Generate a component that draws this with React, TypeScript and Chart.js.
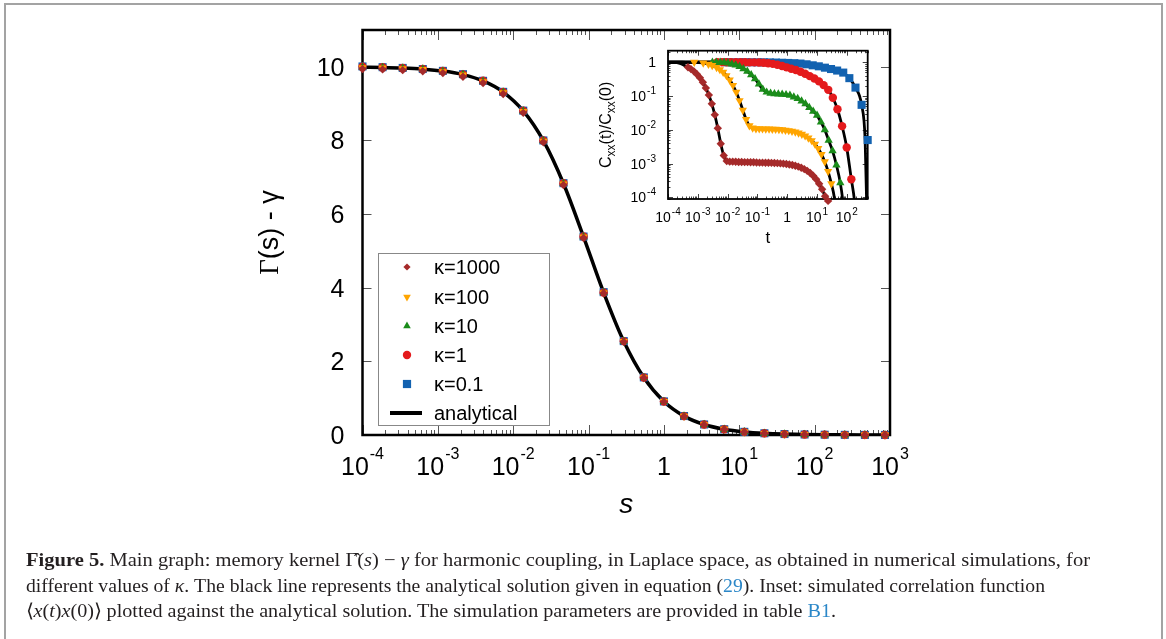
import React, { useEffect, useRef } from 'react';
import { Chart, registerables } from 'chart.js';

Chart.register(...registerables);

// ---------------- Main graph data ----------------
const sValues = [1e-4, 1.848e-4, 3.415e-4, 6.31e-4, 1.166e-3, 2.154e-3, 3.981e-3, 7.356e-3, 0.01359, 0.02512, 0.04642, 0.08577, 0.1585, 0.2929, 0.5412, 1, 1.848, 3.415, 6.31, 11.66, 21.54, 39.81, 73.56, 135.9, 251.2, 464.2, 857.7];
const gammaK1000 = [9.94, 9.93, 9.91, 9.88, 9.83, 9.73, 9.56, 9.26, 8.75, 7.95, 6.79, 5.35, 3.85, 2.53, 1.55, 0.9, 0.505, 0.28, 0.153, 0.083, 0.045, 0.024, 0.013, 0.007, 0.004, 0.002, 0.001];
const gammaK100 = [9.98, 9.97, 9.95, 9.93, 9.87, 9.78, 9.6, 9.3, 8.79, 7.98, 6.82, 5.38, 3.86, 2.54, 1.56, 0.91, 0.51, 0.284, 0.156, 0.085, 0.046, 0.025, 0.0135, 0.0073, 0.004, 0.0021, 0.0012];
const gammaK10 = [9.99, 9.98, 9.96, 9.94, 9.88, 9.79, 9.61, 9.31, 8.8, 7.99, 6.83, 5.38, 3.87, 2.545, 1.56, 0.909, 0.513, 0.285, 0.156, 0.085, 0.046, 0.025, 0.0136, 0.0074, 0.004, 0.0022, 0.0012];
const gammaK1 = [10.0, 9.99, 9.97, 9.94, 9.89, 9.79, 9.62, 9.32, 8.81, 8.0, 6.84, 5.39, 3.87, 2.55, 1.56, 0.91, 0.514, 0.285, 0.156, 0.085, 0.046, 0.025, 0.0136, 0.0074, 0.004, 0.0022, 0.0012];
const gammaK01 = [10.01, 9.99, 9.97, 9.94, 9.89, 9.8, 9.62, 9.32, 8.81, 8.0, 6.84, 5.39, 3.88, 2.55, 1.565, 0.912, 0.515, 0.286, 0.157, 0.086, 0.047, 0.026, 0.014, 0.0075, 0.004, 0.0022, 0.0012];
const analyticS = [1e-4, 1.848e-4, 3.415e-4, 6.31e-4, 1.166e-3, 2.154e-3, 3.981e-3, 7.356e-3, 0.01359, 0.02512, 0.04642, 0.08577, 0.1585, 0.2929, 0.5412, 1, 1.848, 3.415, 6.31, 11.66, 21.54, 39.81, 73.56, 135.9, 251.2, 464.2, 857.7, 1000];
const gammaAnalytical = [9.99, 9.982, 9.966, 9.937, 9.885, 9.789, 9.617, 9.315, 8.803, 7.993, 6.83, 5.383, 3.869, 2.545, 1.56, 0.909, 0.513, 0.285, 0.156, 0.085, 0.046, 0.025, 0.0136, 0.0074, 0.004, 0.0022, 0.0012, 0.001];

const mainXTicks = [1e-4, 1e-3, 1e-2, 1e-1, 1, 10, 100, 1000];
const mainXTickLabels = ['10^-4', '10^-3', '10^-2', '10^-1', '1', '10^1', '10^2', '10^3'];
const mainYTicks = [0, 2, 4, 6, 8, 10];
const mainYTickLabels = ['0', '2', '4', '6', '8', '10'];
const legendLabels = ['κ=1000', 'κ=100', 'κ=10', 'κ=1', 'κ=0.1', 'analytical'];

// ---------------- Inset data ----------------
const tK1000 = [4.68e-4, 5.89e-4, 7.41e-4, 9.33e-4, 1.175e-3, 1.479e-3, 1.862e-3, 2.344e-3, 2.951e-3, 3.715e-3, 4.677e-3, 5.888e-3, 7.413e-3, 9.333e-3, 0.01175, 0.01479, 0.01862, 0.02344, 0.02951, 0.03715, 0.04677, 0.05888, 0.07413, 0.09333, 0.1175, 0.1479, 0.1862, 0.2344, 0.2951, 0.3715, 0.4677, 0.5888, 0.7413, 0.9333, 1.175, 1.479, 1.862, 2.344, 2.951, 3.715, 4.677, 5.888, 7.413, 9.333, 11.75, 14.79, 18.62, 23.44];
const cK1000 = [0.71, 0.628, 0.539, 0.444, 0.348, 0.256, 0.174, 0.107, 0.0589, 0.0278, 0.0112, 0.0039, 1.74e-3, 1.19e-3, 1.148e-3, 1.148e-3, 1.135e-3, 1.122e-3, 1.122e-3, 1.109e-3, 1.109e-3, 1.096e-3, 1.096e-3, 1.084e-3, 1.072e-3, 1.072e-3, 1.06e-3, 1.059e-3, 1.057e-3, 1.047e-3, 1.035e-3, 1.019e-3, 1.0e-3, 9.77e-4, 9.48e-4, 9.12e-4, 8.71e-4, 8.18e-4, 7.6e-4, 6.9e-4, 6.12e-4, 5.27e-4, 4.37e-4, 3.44e-4, 2.55e-4, 1.74e-4, 1.08e-4, 7.9e-5];
const tK100 = [7.6e-4, 1.52e-3, 2.28e-3, 3.04e-3, 4.266e-3, 5.495e-3, 7.079e-3, 9.12e-3, 0.01175, 0.01514, 0.0195, 0.02512, 0.03236, 0.04169, 0.0537, 0.06918, 0.08913, 0.1148, 0.1479, 0.1905, 0.2455, 0.3162, 0.4074, 0.5248, 0.6761, 0.871, 1.122, 1.445, 1.862, 2.399, 3.09, 3.981, 5.129, 6.607, 8.511, 10.96, 14.13, 18.2, 23.44, 30.2];
const cK100 = [1.0, 0.956, 0.876, 0.803, 0.7, 0.609, 0.51, 0.405, 0.302, 0.208, 0.13, 0.0737, 0.0383, 0.0203, 0.0133, 0.0114, 0.01084, 0.0108, 0.01076, 0.01072, 0.01064, 0.01055, 0.01043, 0.01028, 0.01007, 0.00984, 0.00953, 0.00916, 0.00869, 0.00813, 0.00746, 0.00668, 0.00579, 0.00482, 0.0038, 0.00281, 0.00189, 0.00114, 5.94e-4, 2.56e-4];
const tK10 = [3.09e-3, 4.169e-3, 5.623e-3, 7.586e-3, 0.01023, 0.0138, 0.01862, 0.02512, 0.03388, 0.04571, 0.06166, 0.08318, 0.1122, 0.1514, 0.2042, 0.2754, 0.3715, 0.5012, 0.6761, 0.912, 1.23, 1.66, 2.239, 3.02, 4.074, 5.495, 7.413, 10.0, 13.49, 18.2, 24.55, 33.11, 44.67, 60.26];
const cK10 = [1.0, 1.0, 1.0, 0.988, 0.945, 0.89, 0.822, 0.741, 0.644, 0.538, 0.427, 0.323, 0.225, 0.158, 0.13, 0.12, 0.116, 0.1148, 0.1127, 0.1096, 0.1047, 0.0933, 0.0841, 0.0708, 0.0589, 0.0457, 0.0355, 0.0269, 0.017, 0.01, 0.0049, 0.0024, 9.1e-4, 2.7e-4];
const tK1 = [4.519e-3, 6.457e-3, 9.226e-3, 0.01318, 0.01884, 0.02692, 0.03846, 0.05495, 0.07852, 0.1122, 0.1603, 0.2291, 0.3273, 0.4677, 0.6683, 0.955, 1.365, 1.95, 2.786, 3.981, 5.689, 8.128, 11.61, 16.6, 23.71, 33.88, 48.42, 69.18, 98.86, 141.3];
const cK1 = [1.0, 1.0, 1.0, 1.0, 1.0, 0.999, 0.998, 0.996, 0.993, 0.982, 0.966, 0.938, 0.895, 0.841, 0.776, 0.708, 0.646, 0.589, 0.525, 0.457, 0.389, 0.331, 0.272, 0.211, 0.153, 0.0891, 0.0407, 0.0129, 3.02e-3, 3.47e-4];
const tK01 = [9.64e-3, 0.01545, 0.02477, 0.03972, 0.06368, 0.1021, 0.1637, 0.2624, 0.4207, 0.6745, 1.081, 1.734, 2.78, 4.457, 7.145, 11.46, 18.37, 29.44, 47.21, 75.68, 121.3, 194.5, 311.9, 500];
const cK01 = [1.0, 1.0, 1.0, 1.0, 1.0, 0.999, 0.996, 0.99, 0.98, 0.967, 0.955, 0.94, 0.916, 0.871, 0.813, 0.759, 0.692, 0.631, 0.569, 0.495, 0.339, 0.178, 0.055, 5.0e-3];

// analytical curves: start and end segments beyond the simulated points
const aHeadT1000 = [1e-4, 1.6e-4, 2.5e-4, 3.5e-4];
const aHeadC1000 = [1, 0.99, 0.92, 0.81];
const aTailT1000 = [30];
const aTailC1000 = [2.5e-5];
const aHeadT100 = [1e-4, 3e-4, 5.5e-4];
const aHeadC100 = [1, 1, 0.999];
const aTailT100 = [38, 48];
const aTailC100 = [1.0e-4, 1.5e-5];
const aHeadT10 = [1e-4, 1e-3, 2e-3];
const aHeadC10 = [1, 1, 1];
const aTailT10 = [72, 85];
const aTailC10 = [9e-5, 2e-5];
const aHeadT1 = [1e-4, 1e-3, 2.5e-3];
const aHeadC1 = [1, 1, 1];
const aTailT1 = [178, 210];
const aTailC1 = [8.7e-5, 1.5e-5];
const aHeadT01 = [1e-4, 1e-3, 5e-3];
const aHeadC01 = [1, 1, 1];
const aTailT01 = [410, 457, 480];
const aTailC01 = [5e-3, 1e-4, 5e-6];

const insetXTicks = [1e-4, 1e-3, 1e-2, 1e-1, 1, 10, 100];
const insetXTickLabels = ['10^-4', '10^-3', '10^-2', '10^-1', '1', '10^1', '10^2'];
const insetYTicks = [1, 0.1, 0.01, 1e-3, 1e-4];
const insetYTickLabels = ['1', '10^-1', '10^-2', '10^-3', '10^-4'];

// ---------------- Styles ----------------
const SANS = '"Liberation Sans", Arial, Helvetica, sans-serif';
const SERIF = '"Liberation Serif", "Times New Roman", serif';
const BROWN = '#a52a2a';
const ORANGE = '#ffa500';
const GREEN = '#1a8c1a';
const RED = '#e41a1c';
const BLUE = '#1262b0';

const markerDefs = [
  { color: BROWN, style: 'rectRot', r: 4.2, rot: 0 },
  { color: ORANGE, style: 'triangle', r: 4.8, rot: 180 },
  { color: GREEN, style: 'triangle', r: 4.8, rot: 0 },
  { color: RED, style: 'circle', r: 4.2, rot: 0 },
  { color: BLUE, style: 'rect', r: 5.7, rot: 0 },
];

const toXY = (xs: number[], ys: number[]) => xs.map((x, i) => ({ x, y: ys[i] }));

function splitSup(label: string): [string, string] {
  const i = label.indexOf('^');
  return i < 0 ? [label, ''] : [label.slice(0, i), label.slice(i + 1)];
}

function drawSupLabel(ctx: any, label: string, x: number, y: number, align: string, baseSize: number, supSize: number, rise: number) {
  const [b, s] = splitSup(label);
  ctx.font = `${baseSize}px ${SANS}`;
  const wb = ctx.measureText(b).width;
  ctx.font = `${supSize}px ${SANS}`;
  const gap = 1;
  const ws = s ? ctx.measureText(s).width + gap : 0;
  const total = wb + ws;
  const left = align === 'center' ? x - total / 2 : x - total;
  ctx.textAlign = 'left';
  ctx.textBaseline = 'alphabetic';
  ctx.fillStyle = '#000';
  ctx.font = `${baseSize}px ${SANS}`;
  ctx.fillText(b, left, y);
  if (s) {
    ctx.font = `${supSize}px ${SANS}`;
    ctx.fillText(s, left + wb + gap, y - rise);
  }
}

function drawMarker(ctx: any, style: string, x: number, y: number, r: number, color: string, rot: number) {
  ctx.save();
  ctx.fillStyle = color;
  ctx.beginPath();
  if (style === 'circle') {
    ctx.arc(x, y, r, 0, Math.PI * 2);
  } else if (style === 'rect') {
    const h = r * Math.SQRT1_2;
    ctx.rect(x - h, y - h, 2 * h, 2 * h);
  } else if (style === 'rectRot') {
    ctx.moveTo(x - r, y); ctx.lineTo(x, y - r); ctx.lineTo(x + r, y); ctx.lineTo(x, y + r); ctx.closePath();
  } else if (style === 'triangle') {
    let a = (rot * Math.PI) / 180;
    for (let i = 0; i < 3; i++) {
      const px = x + Math.sin(a) * r;
      const py = y - Math.cos(a) * r;
      if (i === 0) ctx.moveTo(px, py); else ctx.lineTo(px, py);
      a += (2 * Math.PI) / 3;
    }
    ctx.closePath();
  }
  ctx.fill();
  ctx.restore();
}

function logTicks(min: number, max: number) {
  const out: { v: number; major: boolean }[] = [];
  for (let e = Math.floor(Math.log10(min)) - 1; e <= Math.ceil(Math.log10(max)); e++) {
    for (let m = 1; m <= 9; m++) {
      const v = m * Math.pow(10, e);
      if (v >= min * 0.9999 && v <= max * 1.0001) out.push({ v, major: m === 1 });
    }
  }
  return out;
}

// ---------------- Main chart plugin ----------------
const mainAxesPlugin = {
  id: 'mainAxes',
  beforeDatasetsDraw(chart: any) {
    const { ctx, chartArea: a, scales } = chart;
    const xs = scales.x, ys = scales.y;
    ctx.save();
    ctx.strokeStyle = '#555';
    ctx.lineWidth = 1;
    ctx.beginPath();
    for (const t of logTicks(xs.min, xs.max)) {
      const px = Math.round(xs.getPixelForValue(t.v)) + 0.5;
      const len = t.major ? 10 : 5;
      ctx.moveTo(px, a.bottom); ctx.lineTo(px, a.bottom - len);
      ctx.moveTo(px, a.top); ctx.lineTo(px, a.top + len);
    }
    for (const v of mainYTicks) {
      const py = Math.round(ys.getPixelForValue(v)) + 0.5;
      ctx.moveTo(a.left, py); ctx.lineTo(a.left + 9, py);
      ctx.moveTo(a.right, py); ctx.lineTo(a.right - 9, py);
    }
    ctx.stroke();
    ctx.strokeStyle = '#000';
    ctx.lineWidth = 2.5;
    ctx.strokeRect(a.left, a.top, a.right - a.left, a.bottom - a.top);
    ctx.restore();
  },
  afterDraw(chart: any) {
    const { ctx, chartArea: a, scales } = chart;
    const xs = scales.x, ys = scales.y;
    ctx.save();
    mainXTicks.forEach((v, i) => {
      drawSupLabel(ctx, mainXTickLabels[i], xs.getPixelForValue(v), a.bottom + 40, 'center', 25, 16, 16.5);
    });
    mainYTicks.forEach((v, i) => {
      drawSupLabel(ctx, mainYTickLabels[i], a.left - 18, ys.getPixelForValue(v) + 9, 'right', 25, 16, 16);
    });
    // x title
    ctx.fillStyle = '#000';
    ctx.font = `italic 28px ${SANS}`;
    ctx.textAlign = 'center';
    ctx.textBaseline = 'alphabetic';
    ctx.fillText('s', (a.left + a.right) / 2, 513);
    // y title
    ctx.save();
    ctx.translate(278, (a.top + a.bottom) / 2);
    ctx.rotate(-Math.PI / 2);
    const p1 = 'Γ', p2 = '(s) - γ';
    ctx.font = `27px ${SERIF}`;
    const w1 = ctx.measureText(p1).width;
    ctx.font = `27px ${SANS}`;
    const w2 = ctx.measureText(p2).width;
    const start = -(w1 + w2) / 2;
    ctx.textAlign = 'left';
    ctx.font = `27px ${SERIF}`;
    ctx.fillText(p1, start, 0);
    ctx.font = `27px ${SANS}`;
    ctx.fillText(p2, start + w1, 0);
    ctx.restore();
    // legend
    const lx = 378.5, ly = 253.5, lw = 171, lh = 172;
    ctx.fillStyle = '#fff';
    ctx.fillRect(lx, ly, lw, lh);
    ctx.strokeStyle = '#888';
    ctx.lineWidth = 1;
    ctx.strokeRect(lx, ly, lw, lh);
    const rowYs = [267, 297, 326, 355, 384, 413];
    const legendSizes = [3.6, 4.4, 4.4, 4.2, 5.8];
    legendLabels.forEach((lab, i) => {
      const y = rowYs[i];
      if (i < 5) {
        const m = markerDefs[i];
        drawMarker(ctx, m.style, 407, y, legendSizes[i], m.color, m.rot);
      } else {
        ctx.strokeStyle = '#000';
        ctx.lineWidth = 4;
        ctx.beginPath(); ctx.moveTo(390, y); ctx.lineTo(422, y); ctx.stroke();
      }
      ctx.fillStyle = '#000';
      ctx.font = `20px ${SANS}`;
      ctx.textAlign = 'left';
      ctx.textBaseline = 'middle';
      ctx.fillText(lab, 434, y + 1);
    });
    ctx.restore();
  },
};

// ---------------- Inset chart plugin ----------------
const insetAxesPlugin = {
  id: 'insetAxes',
  beforeDatasetsDraw(chart: any) {
    const { ctx, chartArea: a, scales } = chart;
    const xs = scales.x, ys = scales.y;
    ctx.save();
    ctx.fillStyle = '#fff';
    ctx.fillRect(a.left, a.top, a.right - a.left, a.bottom - a.top);
    ctx.strokeStyle = '#444';
    ctx.lineWidth = 1;
    ctx.beginPath();
    for (const t of logTicks(xs.min, xs.max)) {
      const px = Math.round(xs.getPixelForValue(t.v)) + 0.5;
      const len = t.major ? 5 : 2.5;
      ctx.moveTo(px, a.bottom); ctx.lineTo(px, a.bottom - len);
      ctx.moveTo(px, a.top); ctx.lineTo(px, a.top + len);
    }
    for (const t of logTicks(ys.min, ys.max)) {
      const py = Math.round(ys.getPixelForValue(t.v)) + 0.5;
      const len = t.major ? 5 : 2.5;
      ctx.moveTo(a.left, py); ctx.lineTo(a.left + len, py);
      ctx.moveTo(a.right, py); ctx.lineTo(a.right - len, py);
    }
    ctx.stroke();
    ctx.strokeStyle = '#000';
    ctx.lineWidth = 1.8;
    ctx.strokeRect(a.left, a.top, a.right - a.left, a.bottom - a.top);
    ctx.restore();
  },
  afterDraw(chart: any) {
    const { ctx, chartArea: a, scales } = chart;
    const xs = scales.x, ys = scales.y;
    ctx.save();
    insetXTicks.forEach((v, i) => {
      drawSupLabel(ctx, insetXTickLabels[i], xs.getPixelForValue(v), a.bottom + 22.5, 'center', 14, 10, 7);
    });
    insetYTicks.forEach((v, i) => {
      drawSupLabel(ctx, insetYTickLabels[i], a.left - 12, ys.getPixelForValue(v) + 5, 'right', 14, 10, 7);
    });
    ctx.fillStyle = '#000';
    ctx.font = `17px ${SANS}`;
    ctx.textAlign = 'center';
    ctx.textBaseline = 'alphabetic';
    ctx.fillText('t', (a.left + a.right) / 2, a.bottom + 44);
    // y title C_xx(t)/C_xx(0)
    ctx.save();
    ctx.translate(a.left - 57, (a.top + a.bottom) / 2);
    ctx.rotate(-Math.PI / 2);
    const parts = [
      { t: 'C', sub: false }, { t: 'xx', sub: true }, { t: '(t)/C', sub: false }, { t: 'xx', sub: true }, { t: '(0)', sub: false },
    ];
    let total = 0;
    const widths = parts.map((p) => {
      ctx.font = `${p.sub ? 12 : 16}px ${SANS}`;
      const w = ctx.measureText(p.t).width;
      total += w;
      return w;
    });
    let x = -total / 2;
    ctx.textAlign = 'left';
    parts.forEach((p, i) => {
      ctx.font = `${p.sub ? 12 : 16}px ${SANS}`;
      ctx.fillText(p.t, x, p.sub ? 4 : 0);
      x += widths[i];
    });
    ctx.restore();
    ctx.restore();
  },
};

function markerDataset(label: string, xs: number[], ys: number[], i: number) {
  const m = markerDefs[i];
  return {
    label,
    data: toXY(xs, ys),
    showLine: false,
    pointStyle: m.style,
    pointRadius: m.r,
    pointRotation: m.rot,
    pointBackgroundColor: m.color,
    pointBorderColor: m.color,
    pointBorderWidth: 0,
    backgroundColor: m.color,
    borderColor: m.color,
    borderWidth: 0,
    clip: false,
  };
}

function lineDataset(label: string, xs: number[], ys: number[], width: number) {
  return {
    label,
    data: toXY(xs, ys),
    showLine: true,
    pointRadius: 0,
    borderColor: '#000',
    backgroundColor: '#000',
    borderWidth: width,
    cubicInterpolationMode: 'monotone',
    fill: false,
  };
}

export default function App() {
  const mainRef = useRef<HTMLCanvasElement>(null);
  const insetRef = useRef<HTMLCanvasElement>(null);
  const lineRefs = useRef<any[]>([]);

  useEffect(() => {
    const main = new Chart(mainRef.current as any, {
      type: 'scatter',
      data: {
        datasets: [
          markerDataset(legendLabels[0], sValues, gammaK1000, 0),
          markerDataset(legendLabels[1], sValues, gammaK100, 1),
          markerDataset(legendLabels[2], sValues, gammaK10, 2),
          markerDataset(legendLabels[3], sValues, gammaK1, 3),
          markerDataset(legendLabels[4], sValues, gammaK01, 4),
          lineDataset(legendLabels[5], analyticS, gammaAnalytical, 3.5),
        ] as any,
      },
      options: {
        responsive: false,
        animation: false,
        events: [],
        layout: { padding: { left: 362.5, right: 276, top: 30, bottom: 204 } },
        plugins: { legend: { display: false }, tooltip: { enabled: false } },
        scales: {
          x: { type: 'logarithmic', min: 1e-4, max: 1000, display: false, bounds: 'data' },
          y: { type: 'linear', min: 0, max: 11, display: false, bounds: 'data' },
        },
      } as any,
      plugins: [mainAxesPlugin],
    });

    const inset = new Chart(insetRef.current as any, {
      type: 'scatter',
      data: {
        datasets: [
          markerDataset('κ=1000', tK1000, cK1000, 0),
          markerDataset('κ=100', tK100, cK100, 1),
          markerDataset('κ=10', tK10, cK10, 2),
          markerDataset('κ=1', tK1, cK1, 3),
          markerDataset('κ=0.1', tK01, cK01, 4),
          lineDataset('analytical κ=1000', [...aHeadT1000, ...tK1000, ...aTailT1000], [...aHeadC1000, ...cK1000, ...aTailC1000], 2.8),
          lineDataset('analytical κ=100', [...aHeadT100, ...tK100, ...aTailT100], [...aHeadC100, ...cK100, ...aTailC100], 2.8),
          lineDataset('analytical κ=10', [...aHeadT10, ...tK10, ...aTailT10], [...aHeadC10, ...cK10, ...aTailC10], 2.8),
          lineDataset('analytical κ=1', [...aHeadT1, ...tK1, ...aTailT1], [...aHeadC1, ...cK1, ...aTailC1], 2.8),
          lineDataset('analytical κ=0.1', [...aHeadT01, ...tK01.slice(0, -1), ...aTailT01], [...aHeadC01, ...cK01.slice(0, -1), ...aTailC01], 2.8),
        ] as any,
      },
      options: {
        responsive: false,
        animation: false,
        events: [],
        layout: { padding: { left: 108, right: 32.3, top: 30.7, bottom: 61 } },
        plugins: { legend: { display: false }, tooltip: { enabled: false } },
        scales: {
          x: { type: 'logarithmic', min: 1e-4, max: 500, display: false, bounds: 'data' },
          y: { type: 'logarithmic', min: 9e-5, max: 2.2, display: false, bounds: 'data' },
        },
      } as any,
      plugins: [insetAxesPlugin],
    });

    const targets = [1064, 1019, 810];
    lineRefs.current.forEach((el, i) => {
      if (!el) return;
      el.style.transform = '';
      const w = el.getBoundingClientRect().width;
      if (w > 0) el.style.transform = `scaleX(${targets[i] / w})`;
    });

    return () => {
      main.destroy();
      inset.destroy();
    };
  }, []);

  const lineStyle: any = { display: 'inline-block', transformOrigin: '0 50%', whiteSpace: 'nowrap' };
  const link: any = { color: '#2b87c8' };

  return (
    <div style={{ position: 'fixed', left: 0, top: 0, width: 1166, height: 639, overflow: 'hidden', background: '#fff' }}>
      <div style={{ position: 'absolute', left: 4, top: 3, width: 1155, height: 700, border: '2px solid #a3a3a3' }} />
      <canvas ref={mainRef} width={1166} height={639} style={{ position: 'absolute', left: 0, top: 0, width: 1166, height: 639 }} />
      <canvas ref={insetRef} width={340} height={240} style={{ position: 'absolute', left: 560, top: 20, width: 340, height: 240 }} />
      <div style={{ position: 'absolute', left: 26, top: 548, fontFamily: SERIF, fontSize: 18.5, lineHeight: '25.5px', color: '#231f20' }}>
        <div>
          <span ref={(el) => { lineRefs.current[0] = el; }} style={lineStyle}>
            <b>Figure 5.</b> Main graph: memory kernel Γ̂(<i>s</i>) − <i>γ</i> for harmonic coupling, in Laplace space, as obtained in numerical simulations, for
          </span>
        </div>
        <div>
          <span ref={(el) => { lineRefs.current[1] = el; }} style={lineStyle}>
            different values of <i>κ</i>. The black line represents the analytical solution given in equation (<span style={link}>29</span>). Inset: simulated correlation function
          </span>
        </div>
        <div>
          <span ref={(el) => { lineRefs.current[2] = el; }} style={lineStyle}>
            ⟨<i>x</i>(<i>t</i>)<i>x</i>(0)⟩ plotted against the analytical solution. The simulation parameters are provided in table <span style={link}>B1</span>.
          </span>
        </div>
      </div>
    </div>
  );
}
